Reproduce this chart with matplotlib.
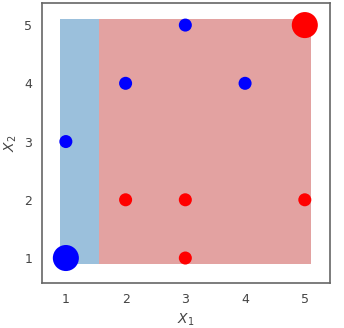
import numpy as np
import matplotlib
matplotlib.use("Agg")
import matplotlib.pyplot as plt
from matplotlib.colors import ListedColormap
import seaborn as sns

sns.set_style("white")

x1 = [1, 1, 2, 3, 4, 2, 3, 3, 5, 5]
x2 = [1, 3, 4, 5, 4, 2, 2, 1, 2, 5]
labels = [-1, -1, -1, -1, -1, 1, 1, 1, 1, 1]
weights = [4, 1, 1, 1, 1, 1, 1, 1, 1, 4]
threshold = 1.55

fig = plt.figure(figsize=(3.44, 3.28), dpi=100)
ax = fig.add_axes([0.122, 0.137, 0.837, 0.854])

xx, yy = np.meshgrid(np.linspace(0.9, 5.1, 421), np.linspace(0.9, 5.1, 50))
zz = np.where(xx < threshold, -1, 1)
ax.contourf(xx, yy, zz, levels=[-2, 0, 2], colors=["#9bc0dc", "#e3a2a1"])

cols = ["blue" if l < 0 else "red" for l in labels]
sizes = [88 * w for w in weights]
ax.scatter(x1, x2, s=sizes, c=cols, zorder=3, edgecolors="none")

ax.set_xlim(0.6, 5.42)
ax.set_ylim(0.57, 5.38)
ax.set_xticks([1, 2, 3, 4, 5])
ax.set_yticks([1, 2, 3, 4, 5])
ax.tick_params(labelsize=9, colors="#444444")
ax.set_xlabel("$X_1$", fontsize=10, color="#444444")
ax.set_ylabel("$X_2$", fontsize=10, color="#444444")
for s in ax.spines.values():
    s.set_color("#666666")
    s.set_linewidth(1.2)

fig.savefig("out.png", dpi=100)
